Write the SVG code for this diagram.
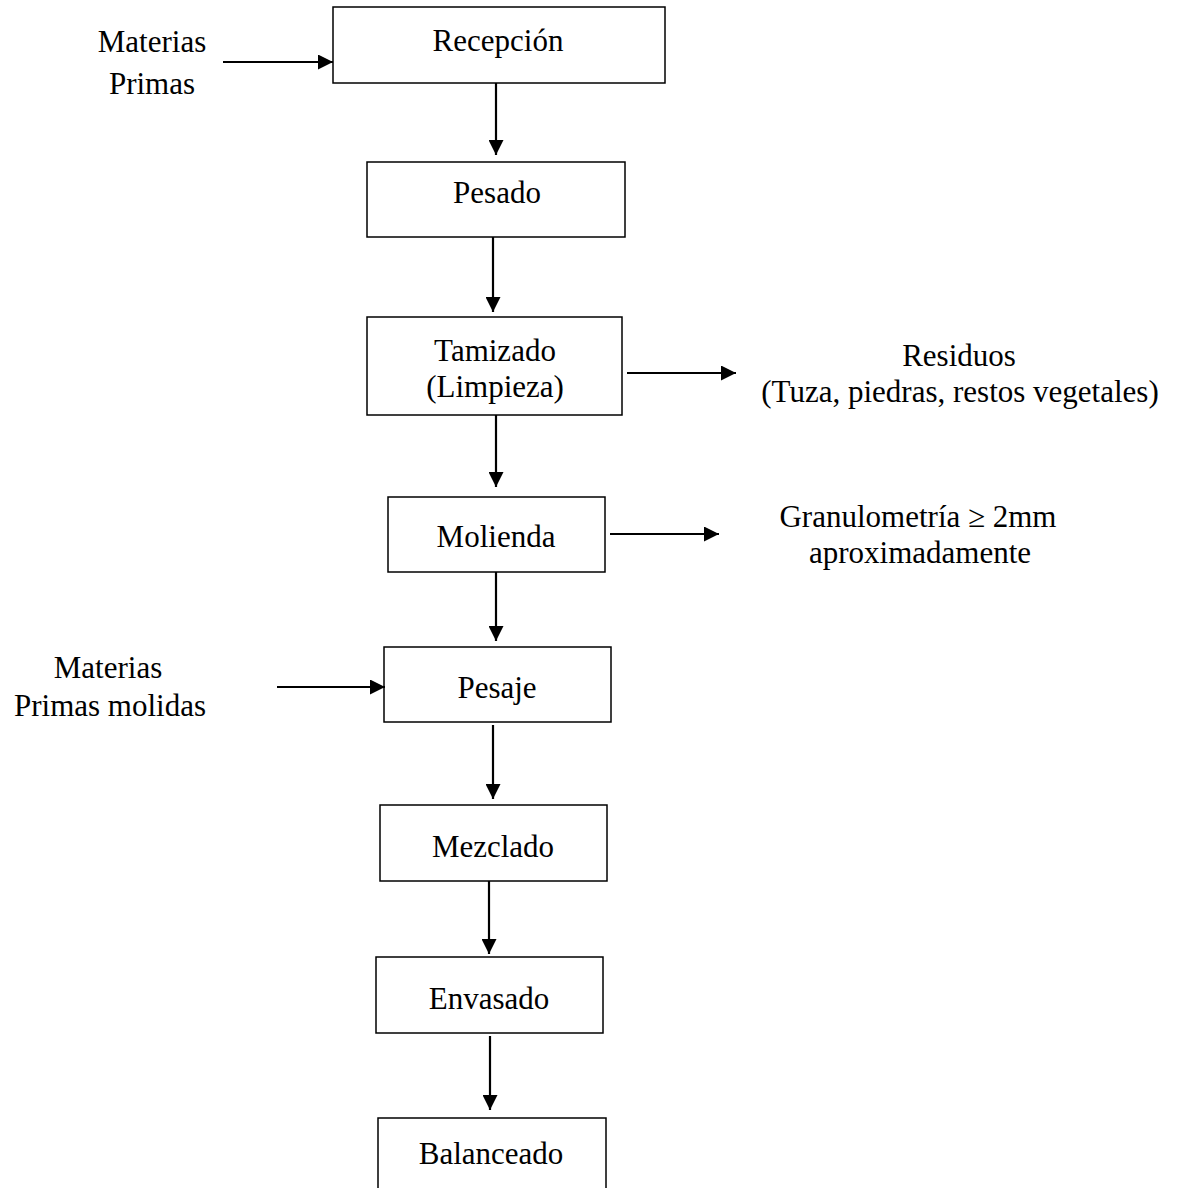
<svg xmlns="http://www.w3.org/2000/svg" width="1179" height="1188" viewBox="0 0 1179 1188">
<style>
.box{fill:#fff;stroke:#000;stroke-width:1.5}
.t{font-family:"Liberation Serif","Times New Roman",serif;font-size:31px;fill:#000;text-anchor:middle}
.c{fill:none;stroke:#000;stroke-width:2.2}
</style>
<defs>
<marker id="ah" viewBox="0 0 10 10" refX="10" refY="5" markerUnits="userSpaceOnUse" markerWidth="15" markerHeight="15" orient="auto">
<path d="M0,0 L10,5 L0,10 z" fill="#000"/>
</marker>
</defs>
<rect width="1179" height="1188" fill="#fff"/>
<g id="n-materias1"><text class="t" x="152" y="52">Materias</text><text class="t" x="152" y="94">Primas</text></g>
<g id="n-recepcion"><rect class="box" x="333" y="7" width="332" height="76"/><text class="t" x="498" y="51">Recepción</text></g>
<g id="n-pesado"><rect class="box" x="367" y="162" width="258" height="75"/><text class="t" x="497" y="203">Pesado</text></g>
<g id="n-tamizado"><rect class="box" x="367" y="317" width="255" height="98"/><text class="t" x="495" y="361">Tamizado</text><text class="t" x="495" y="397">(Limpieza)</text></g>
<g id="n-residuos"><text class="t" x="959" y="366">Residuos</text><text class="t" x="960" y="402">(Tuza, piedras, restos vegetales)</text></g>
<g id="n-molienda"><rect class="box" x="388" y="497" width="217" height="75"/><text class="t" x="496" y="547">Molienda</text></g>
<g id="n-granulometria"><text class="t" x="918" y="527">Granulometría ≥ 2mm</text><text class="t" x="920" y="563">aproximadamente</text></g>
<g id="n-materias2"><text class="t" x="108" y="678">Materias</text><text class="t" x="110" y="716">Primas molidas</text></g>
<g id="n-pesaje"><rect class="box" x="384" y="647" width="227" height="75"/><text class="t" x="497" y="698">Pesaje</text></g>
<g id="n-mezclado"><rect class="box" x="380" y="805" width="227" height="76"/><text class="t" x="493" y="857">Mezclado</text></g>
<g id="n-envasado"><rect class="box" x="376" y="957" width="227" height="76"/><text class="t" x="489" y="1009">Envasado</text></g>
<g id="n-balanceado"><rect class="box" x="378" y="1118" width="228" height="90"/><text class="t" x="491" y="1164">Balanceado</text></g>
<g id="connectors">
<path class="c" d="M223,62 H333" marker-end="url(#ah)"/>
<path class="c" d="M496,83 V155" marker-end="url(#ah)"/>
<path class="c" d="M493,237 V312" marker-end="url(#ah)"/>
<path class="c" d="M627,373 H736" marker-end="url(#ah)"/>
<path class="c" d="M496,415 V487" marker-end="url(#ah)"/>
<path class="c" d="M610,534 H719" marker-end="url(#ah)"/>
<path class="c" d="M496,572 V641" marker-end="url(#ah)"/>
<path class="c" d="M277,687 H385" marker-end="url(#ah)"/>
<path class="c" d="M493,725 V799" marker-end="url(#ah)"/>
<path class="c" d="M489,881 V954" marker-end="url(#ah)"/>
<path class="c" d="M490,1036 V1110" marker-end="url(#ah)"/>
</g>
</svg>
